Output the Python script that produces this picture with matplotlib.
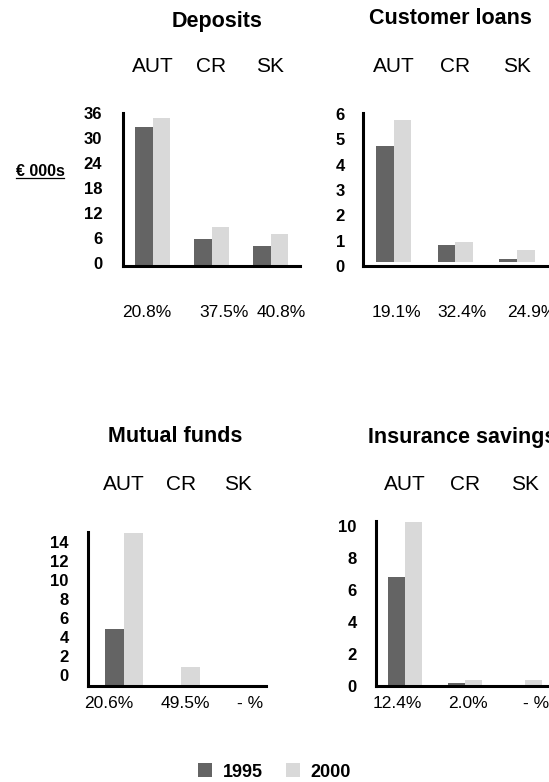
import numpy as np
import matplotlib.pyplot as plt
from matplotlib.transforms import blended_transform_factory

plt.rcParams['font.family'] = ['Liberation Sans', 'DejaVu Sans']

# datos (miles de euros)
paises = ["AUT", "CR", "SK"]
anios = ["1995", "2000"]

depositos_1995 = [32.6, 5.8, 4.1]
depositos_2000 = [34.8, 8.6, 7.0]
depositos_crec = ["20.8%", "37.5%", "40.8%"]

prestamos_1995 = [4.73, 0.81, 0.27]
prestamos_2000 = [5.77, 0.96, 0.62]
prestamos_crec = ["19.1%", "32.4%", "24.9%"]

fondos_1995 = [4.8, 0.0, 0.0]
fondos_2000 = [14.95, 0.84, 0.0]
fondos_crec = ["20.6%", "49.5%", "- %"]

seguros_1995 = [6.8, 0.2, 0.0]
seguros_2000 = [10.25, 0.35, 0.4]
seguros_crec = ["12.4%", "2.0%", "- %"]

ticks_depositos = [0, 6, 12, 18, 24, 30, 36]
ticks_prestamos = [0, 1, 2, 3, 4, 5, 6]
ticks_fondos = [0, 2, 4, 6, 8, 10, 12, 14]
ticks_seguros = [0, 2, 4, 6, 8, 10]

OSCURO = "#646464"
CLARO = "#d9d9d9"
W, H = 549, 782

fig = plt.figure(figsize=(W / 100, H / 100), dpi=100)


def caja(izq, arriba, der, abajo):
    return fig.add_axes([izq / W, 1 - abajo / H, (der - izq) / W, (abajo - arriba) / H])


def panel(pos, xlim, ylim, v95, v00, ancho, ticks, pad, titulo, titulo_xy,
          fila_y, crec, crec_x, crec_y, titulo_ha="center"):
    ax = caja(*pos)
    piso = ylim[0]
    x = np.arange(len(paises))
    a = np.array(v95)
    b = np.array(v00)
    ax.bar(x - ancho / 2, np.where(a > 0, a - piso, 0), ancho, bottom=piso,
           color=OSCURO, label=anios[0])
    ax.bar(x + ancho / 2, np.where(b > 0, b - piso, 0), ancho, bottom=piso,
           color=CLARO, label=anios[1])
    ax.set_xlim(*xlim)
    ax.set_ylim(*ylim)
    ax.set_yticks(ticks)
    ax.set_xticks([])
    ax.tick_params(axis="y", length=0, pad=pad, labelsize=12)
    for t in ax.get_yticklabels():
        t.set_fontweight("bold")
    for s in ["top", "right"]:
        ax.spines[s].set_visible(False)
    for s in ["left", "bottom"]:
        ax.spines[s].set_linewidth(2.2)
        ax.spines[s].set_zorder(3)
    ax.set_facecolor("none")
    # paises arriba
    tr = blended_transform_factory(ax.transData, fig.transFigure)
    for i, p in enumerate(paises):
        ax.text(i, 1 - fila_y / H, p, transform=tr, ha="center", va="center",
                fontsize=15, clip_on=False)
    fig.text(titulo_xy[0] / W, 1 - titulo_xy[1] / H, titulo, ha=titulo_ha,
             va="center", fontsize=15.5, fontweight="bold")
    for cx, c in zip(crec_x, crec):
        fig.text(cx / W, 1 - crec_y / H, c, ha="center", va="center", fontsize=12.5)
    return ax


ax1 = panel((123, 113, 300, 266), (-0.5, 2.5), (-0.7, 36), depositos_1995, depositos_2000,
            0.29, ticks_depositos, 15, "Deposits", (217, 21), 67,
            depositos_crec, [147, 224, 281], 313)
panel((363, 113, 554, 266), (-0.5, 2.6), (0.15, 6.04), prestamos_1995, prestamos_2000,
      0.285, ticks_prestamos, 13, "Customer loans", (450, 19), 67,
      prestamos_crec, [396, 462, 532], 313)
panel((88, 532, 266, 686), (-0.63, 2.49), (-1.16, 15.05), fondos_1995, fondos_2000,
      0.34, ticks_fondos, 14, "Mutual funds", (175, 437), 485,
      fondos_crec, [109, 185, 250], 703)
panel((376, 521, 560, 686), (-0.48, 2.58), (0.0, 10.3), seguros_1995, seguros_2000,
      0.28, ticks_seguros, 14, "Insurance savings", (368, 437), 485,
      seguros_crec, [397, 468, 536], 703, titulo_ha="left")

# etiqueta de unidades
fig.text(40 / W, 1 - 171 / H, "€ 000s", ha="center", va="center",
         fontsize=11.5, fontweight="bold")
fig.add_artist(plt.Line2D([16 / W, 64 / W], [1 - 178 / H, 1 - 178 / H],
                          color="black", linewidth=0.9))

h, l = ax1.get_legend_handles_labels()
fig.legend(h, l, loc="center", bbox_to_anchor=(274.5 / W, 1 - 772 / H), ncol=2,
           frameon=False, handlelength=0.78, handleheight=0.78,
           handletextpad=0.6, columnspacing=1.28,
           prop={"size": 13, "weight": "bold"})

fig.savefig("out.png", dpi=100)
